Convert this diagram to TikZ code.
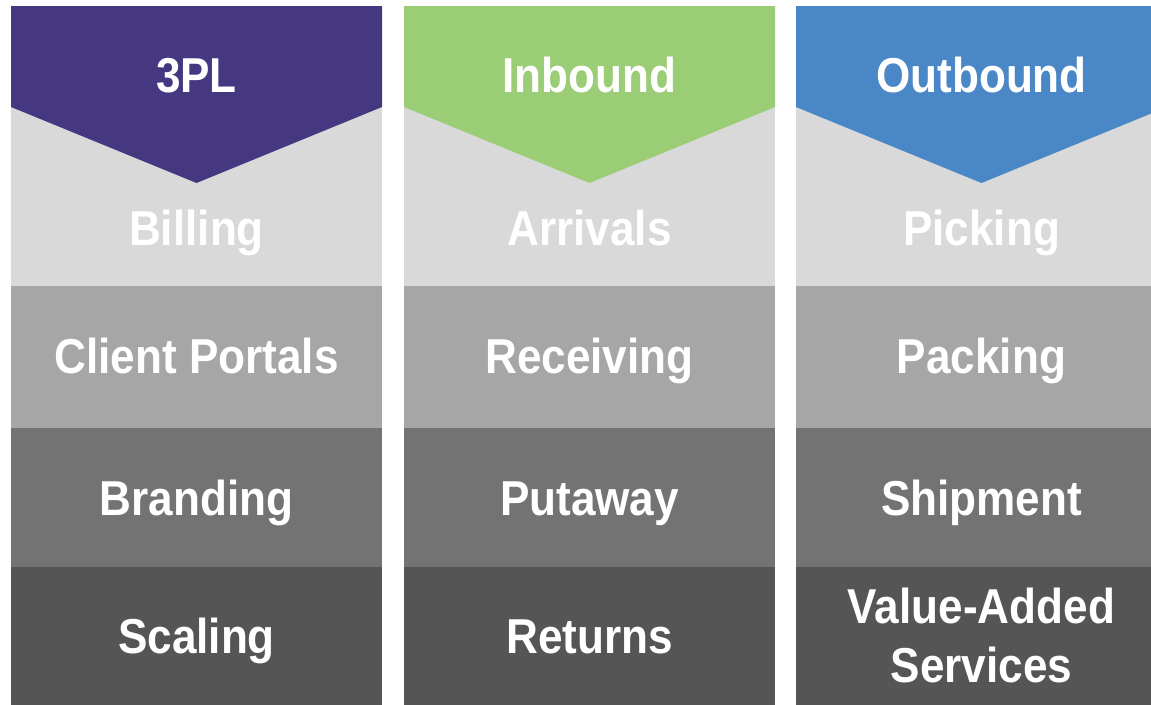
\documentclass[tikz,border=0pt]{standalone}
\usepackage{fontspec}
\setmainfont{Liberation Sans}[FakeStretch=0.9]
\definecolor{viola}{HTML}{453881}
\definecolor{verde}{HTML}{9BCC76}
\definecolor{blu}{HTML}{4A87C6}
\definecolor{grigio1}{HTML}{D9D9D9}
\definecolor{grigio2}{HTML}{A6A6A6}
\definecolor{grigio3}{HTML}{737373}
\definecolor{grigio4}{HTML}{555555}
\begin{document}
\begin{tikzpicture}[x=1pt,y=-1pt,
    fascia/.style={rectangle, inner sep=0pt, minimum width=371pt},
    testo/.style={inner sep=0pt, anchor=base, text=white, align=center,
      font=\bfseries\fontsize{49}{59}\selectfont}]
    \clip (0,0) rectangle (1151,704);

    % Fasce
    \node[fascia, fill=grigio1, minimum height=179pt] (A1) at (196.5,196.5) {};
    \node[fascia, fill=grigio2, minimum height=142pt] (A2) at (196.5,357) {};
    \node[fascia, fill=grigio3, minimum height=139pt] (A3) at (196.5,497.5) {};
    \node[fascia, fill=grigio4, minimum height=140pt] (A4) at (196.5,637) {};

    \node[fascia, fill=grigio1, minimum height=179pt] (B1) at (589.5,196.5) {};
    \node[fascia, fill=grigio2, minimum height=142pt] (B2) at (589.5,357) {};
    \node[fascia, fill=grigio3, minimum height=139pt] (B3) at (589.5,497.5) {};
    \node[fascia, fill=grigio4, minimum height=140pt] (B4) at (589.5,637) {};

    \node[fascia, fill=grigio1, minimum height=179pt] (C1) at (981.5,196.5) {};
    \node[fascia, fill=grigio2, minimum height=142pt] (C2) at (981.5,357) {};
    \node[fascia, fill=grigio3, minimum height=139pt] (C3) at (981.5,497.5) {};
    \node[fascia, fill=grigio4, minimum height=140pt] (C4) at (981.5,637) {};

    % Intestazioni
    \fill[viola] (11,6) -- (382,6) -- (382,107) -- (196.5,183) -- (11,107) -- cycle;
    \fill[verde] (404,6) -- (775,6) -- (775,107) -- (589.5,183) -- (404,107) -- cycle;
    \fill[blu] (796,6) -- (1167,6) -- (1167,107) -- (981.5,183) -- (796,107) -- cycle;

    % Testi
    \node[testo] (a0) at (196.5,92) {3PL};
    \node[testo] (a1) at (196.5,245) {Billing};
    \node[testo] (a2) at (196.5,373) {Client Portals};
    \node[testo] (a3) at (196.5,515) {Branding};
    \node[testo] (a4) at (196.5,653) {Scaling};

    \node[testo] (b0) at (589.5,92) {Inbound};
    \node[testo] (b1) at (589.5,245) {Arrivals};
    \node[testo] (b2) at (589.5,373) {Receiving};
    \node[testo] (b3) at (589.5,515) {Putaway};
    \node[testo] (b4) at (589.5,653) {Returns};

    \node[testo] (c0) at (981.5,92) {Outbound};
    \node[testo] (c1) at (981.5,245) {Picking};
    \node[testo] (c2) at (981.5,373) {Packing};
    \node[testo] (c3) at (981.5,515) {Shipment};
    \node[testo] (c4) at (981.5,682) {Value-Added\\Services};
  \end{tikzpicture}
\end{document}
